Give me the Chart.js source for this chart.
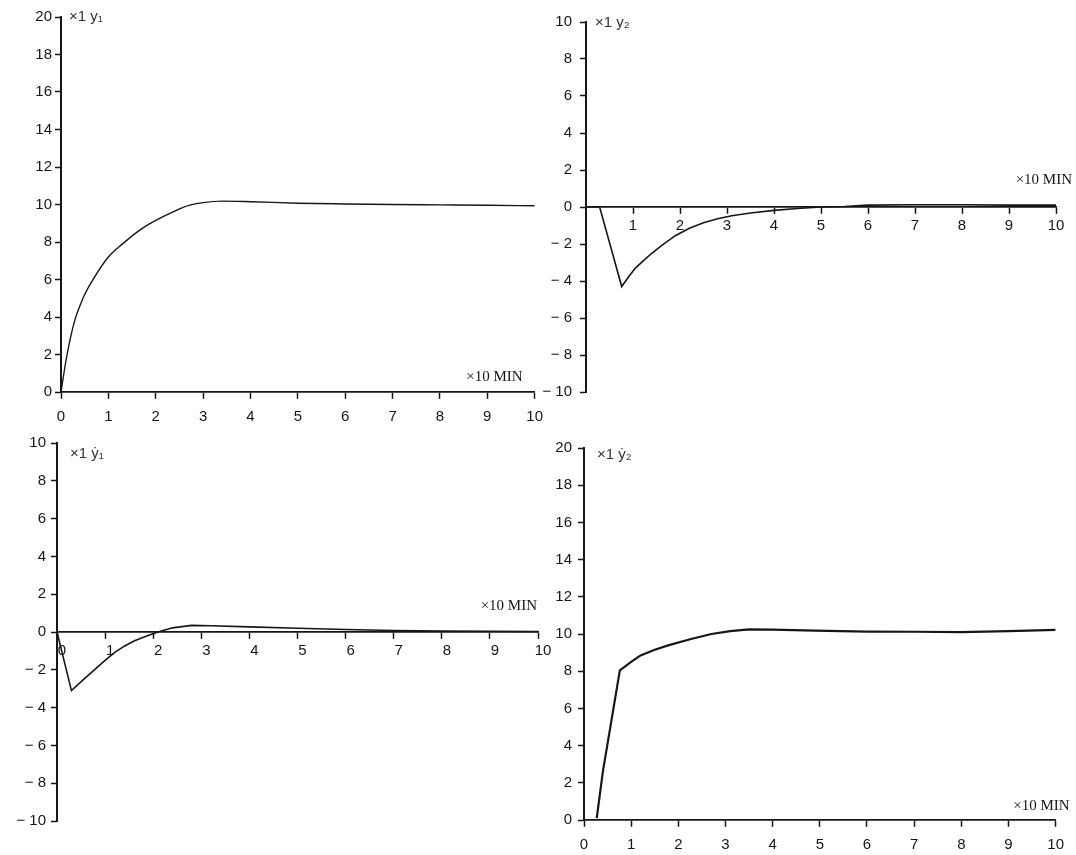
<!DOCTYPE html>
<html>
<head>
<meta charset="utf-8">
<script src="https://cdn.jsdelivr.net/npm/chart.js@4.4.1/dist/chart.umd.min.js"></script>
<style>
  html, body { margin: 0; padding: 0; background: #fff; }
  body { width: 1076px; height: 855px; position: relative; overflow: hidden; }
  canvas { position: absolute; }
</style>
</head>
<body>
<canvas id="c1"></canvas>
<canvas id="c2"></canvas>
<canvas id="c3"></canvas>
<canvas id="c4"></canvas>
<script>
// ---- values (time in x10 min) ----
const y1Time = [0, 0.1, 0.2, 0.3, 0.4, 0.5, 0.7, 1.0, 1.3, 1.7, 2.0, 2.4, 2.7, 3.0, 3.4, 4.0, 5.0, 6.0, 7.0, 8.0, 9.0, 10.0];
const y1Vals = [0, 1.6, 2.9, 3.9, 4.6, 5.2, 6.1, 7.2, 7.9, 8.7, 9.15, 9.65, 9.95, 10.1, 10.18, 10.15, 10.07, 10.03, 10.0, 9.98, 9.96, 9.93];

const y2Time = [0, 0.29, 0.76, 0.9, 1.05, 1.2, 1.4, 1.6, 1.9, 2.2, 2.5, 2.8, 3.1, 3.5, 4.0, 4.5, 5.0, 5.5, 6.0, 7.0, 8.0, 9.0, 10.0];
const y2Vals = [0, 0, -4.3, -3.8, -3.3, -2.95, -2.5, -2.1, -1.55, -1.15, -0.85, -0.64, -0.47, -0.32, -0.18, -0.08, 0, 0.03, 0.1, 0.12, 0.12, 0.1, 0.1];

const dy1Time = [0, 0.3, 0.6, 1.0, 1.2, 1.4, 1.6, 1.85, 2.1, 2.4, 2.8, 3.2, 4.0, 5.0, 6.0, 7.0, 8.0, 9.0, 10.0];
const dy1Vals = [0, -3.1, -2.4, -1.5, -1.08, -0.75, -0.48, -0.22, 0, 0.22, 0.35, 0.33, 0.27, 0.2, 0.13, 0.08, 0.05, 0.04, 0.03];

const dy2Time = [0.27, 0.4, 0.76, 1.0, 1.2, 1.5, 1.8, 2.25, 2.7, 3.1, 3.5, 4.0, 4.9, 6.0, 7.0, 8.0, 9.0, 10.0];
const dy2Vals = [0.1, 2.6, 8.05, 8.5, 8.85, 9.15, 9.4, 9.72, 10.0, 10.15, 10.25, 10.24, 10.18, 10.13, 10.12, 10.1, 10.15, 10.22];

// tick labels
const xTicksAll    = [0, 1, 2, 3, 4, 5, 6, 7, 8, 9, 10];
const xTicksNoZero = [1, 2, 3, 4, 5, 6, 7, 8, 9, 10];
const yTicks0to20  = [0, 2, 4, 6, 8, 10, 12, 14, 16, 18, 20];
const yTicksPm10   = [-10, -8, -6, -4, -2, 0, 2, 4, 6, 8, 10];

const varLabels = ['×1 y₁', '×1 y₂', '×1 ẏ₁', '×1 ẏ₂'];
const timeUnit = '×10 MIN';

// ---- layout: pixel spots of each panel on the page ----
const YW = 50, PAD_T = 12, PAD_R = 16, PAD_B = 34;
const INK = '#161616';

const notes = {
    id: 'notes',
    afterDraw(chart, args, o) {
        const { ctx, chartArea } = chart;
        const zeroY = chart.scales.y.getPixelForValue(0);
        ctx.save();
        ctx.fillStyle = '#333';
        ctx.textBaseline = 'middle';
        ctx.font = '15px "Liberation Sans", "DejaVu Sans"';
        ctx.fillText(o.varText, chartArea.left + o.vx, chartArea.top + o.vy);
        ctx.fillStyle = INK;
        ctx.textAlign = 'right';
        ctx.font = '15px "Liberation Serif", "DejaVu Serif"';
        ctx.fillText(timeUnit, chartArea.right + o.ux, zeroY + o.uy);
        ctx.restore();
    }
};

const tickFmt = v => v < 0 ? '− ' + Math.abs(v) : String(v);

function makePanel(id, p, time, vals, xTicks, yTicks, lw, varText) {
    const cv = document.getElementById(id);
    const w = (p.x10 - p.axisX) + YW + PAD_R;
    const h = (p.yBot - p.yTop) + PAD_T + PAD_B;
    cv.width = w; cv.height = h;
    cv.style.left = (p.axisX - YW) + 'px';
    cv.style.top = (p.yTop - PAD_T) + 'px';
    cv.style.width = w + 'px'; cv.style.height = h + 'px';

    new Chart(cv, {
        type: 'line',
        data: {
            datasets: [{
                data: time.map((t, i) => ({ x: t, y: vals[i] })),
                borderColor: INK,
                borderWidth: lw,
                pointRadius: 0,
                tension: p.smooth ? 0.4 : 0,
                cubicInterpolationMode: p.smooth ? 'monotone' : 'default',
                fill: false
            }]
        },
        plugins: [notes],
        options: {
            responsive: false,
            animation: false,
            devicePixelRatio: 1,
            layout: { padding: { left: 0, right: PAD_R, top: PAD_T, bottom: PAD_B } },
            plugins: {
                legend: { display: false },
                tooltip: { enabled: false },
                notes: { varText, vx: p.vx, vy: p.vy, ux: p.ux, uy: p.uy }
            },
            scales: {
                x: {
                    type: 'linear',
                    position: { y: 0 },
                    min: 0, max: 10,
                    afterFit: s => { s.height = 0; },
                    afterBuildTicks: s => { s.ticks = xTicks.map(v => ({ value: v })); },
                    border: { display: true, color: INK, width: 1.8 },
                    grid: { drawOnChartArea: false, drawTicks: true, tickLength: 6, tickColor: INK, tickWidth: 1.5 },
                    ticks: { color: INK, padding: p.xPad, labelOffset: p.xOff, maxRotation: 0, autoSkip: false,
                             font: { family: '"Liberation Sans", Arial', size: 15 } }
                },
                y: {
                    min: p.yMin, max: p.yMax,
                    afterFit: s => { s.width = YW; },
                    afterBuildTicks: s => { s.ticks = yTicks.map(v => ({ value: v })); },
                    border: { display: true, color: INK, width: 2 },
                    grid: { drawOnChartArea: false, drawTicks: true, tickLength: 6, tickColor: INK, tickWidth: 1.5 },
                    ticks: { color: INK, padding: p.yPad, callback: tickFmt,
                             font: { family: '"Liberation Sans", Arial', size: 15 } }
                }
            }
        }
    });
}

makePanel('c1', { axisX: 61, x10: 537, yTop: 17, yBot: 392, yMin: 0, yMax: 20, smooth: true,
                  xPad: 10, xOff: 0, yPad: 3, vx: 8, vy: 0, ux: -12, uy: -15 },
          y1Time, y1Vals, xTicksAll, yTicks0to20, 1.4, varLabels[0]);
makePanel('c2', { axisX: 586, x10: 1056, yTop: 17, yBot: 392, yMin: -10, yMax: 10, smooth: false,
                  xPad: 4, xOff: 0, yPad: 8, vx: 9, vy: 1, ux: 16, uy: -27 },
          y2Time, y2Vals, xTicksNoZero, yTicksPm10, 1.6, varLabels[1]);
makePanel('c3', { axisX: 57, x10: 538, yTop: 441, yBot: 821, yMin: -10, yMax: 10, smooth: false,
                  xPad: 4, xOff: 5, yPad: 5, vx: 13, vy: 11, ux: -1, uy: -26 },
          dy1Time, dy1Vals, xTicksAll, yTicksPm10, 1.6, varLabels[2]);
makePanel('c4', { axisX: 584, x10: 1058, yTop: 445, yBot: 820, yMin: 0, yMax: 20, smooth: false,
                  xPad: 10, xOff: 0, yPad: 6, vx: 13, vy: 7, ux: 14, uy: -14 },
          dy2Time, dy2Vals, xTicksAll, yTicks0to20, 2.2, varLabels[3]);
</script>
</body>
</html>
